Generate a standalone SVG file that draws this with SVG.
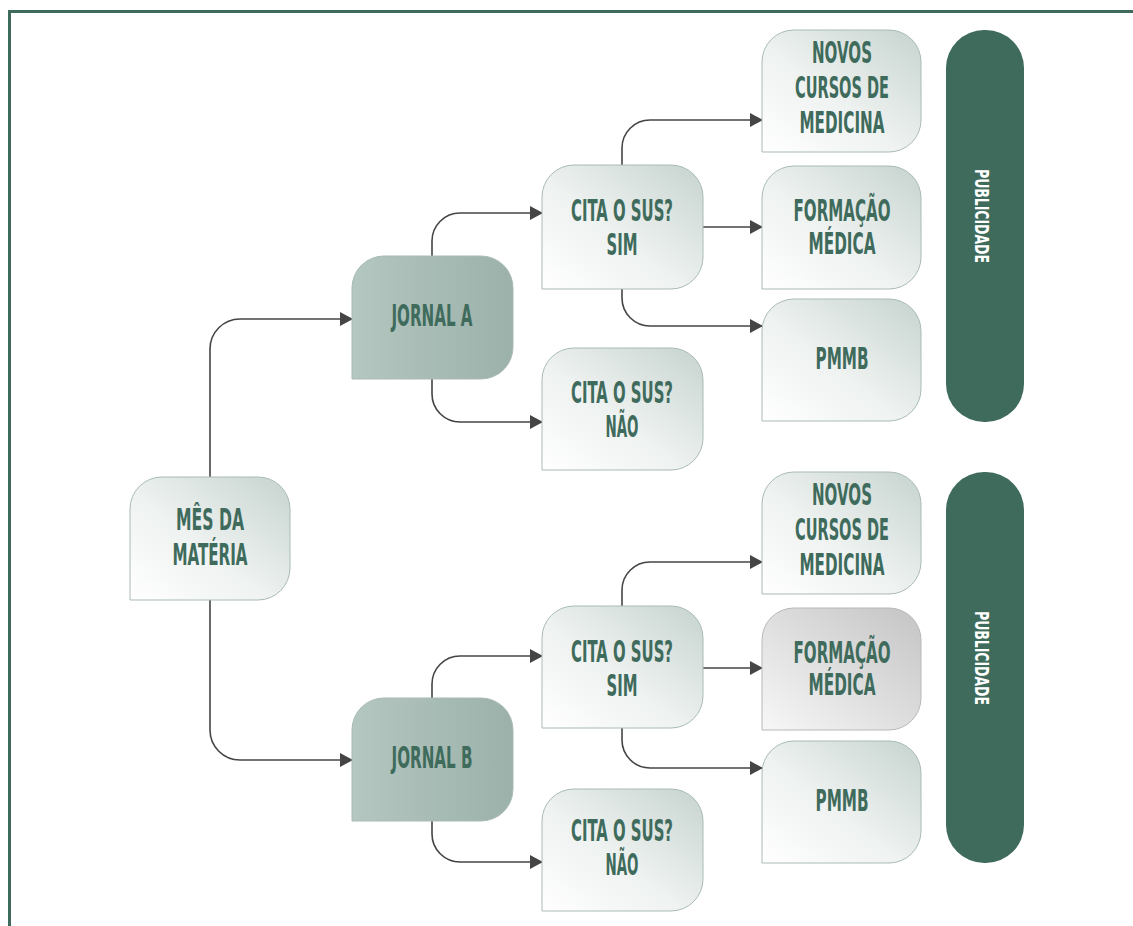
<svg xmlns="http://www.w3.org/2000/svg" width="1133" height="926" viewBox="0 0 1133 926">
<defs>
<linearGradient id="gLight" x1="0" y1="1" x2="1" y2="0">
<stop offset="0" stop-color="#ffffff"/>
<stop offset="0.45" stop-color="#eef2f0"/>
<stop offset="1" stop-color="#c6d3ce"/>
</linearGradient>
<linearGradient id="gJornal" x1="0" y1="0" x2="1" y2="0">
<stop offset="0" stop-color="#b4c7c0"/>
<stop offset="1" stop-color="#9bb1a9"/>
</linearGradient>
<linearGradient id="gGray" x1="0" y1="1" x2="1" y2="0">
<stop offset="0" stop-color="#f7f7f7"/>
<stop offset="1" stop-color="#c4c4c4"/>
</linearGradient>
<marker id="arr" markerUnits="userSpaceOnUse" markerWidth="13" markerHeight="14" refX="12" refY="7" orient="auto">
<path d="M0,0 L13,7 L0,14 Z" fill="#454545"/>
</marker>
<style>
.node{stroke:#a9bbb4;stroke-width:1}
.light{fill:url(#gLight)}
.jornal{fill:url(#gJornal)}
.gray{fill:url(#gGray);stroke:#b8b8b8}
.t{font-family:"Liberation Sans Narrow","DejaVu Sans Condensed","Liberation Sans",sans-serif;font-weight:bold;font-size:29.5px;fill:#3f6b5c;text-anchor:middle}
.pub{fill:#3f6b5c}
.pt{font-family:"Liberation Sans Narrow","DejaVu Sans Condensed","Liberation Sans",sans-serif;font-weight:bold;font-size:19px;fill:#ffffff;text-anchor:middle}
.conn path{fill:none;stroke:#454545;stroke-width:1.6;marker-end:url(#arr)}
</style>
</defs>
<rect width="1133" height="926" fill="#ffffff"/>
<rect x="9.5" y="11.5" width="1130" height="930" fill="none" stroke="#3f6b5c" stroke-width="3"/>

<g class="conn" id="connectors">
<path d="M210 477 V349 A30 30 0 0 1 240 319 H352"/>
<path d="M210 600 V730 A30 30 0 0 0 240 760 H352"/>
<path d="M432 256 V241 A28 28 0 0 1 460 213 H542"/>
<path d="M432 379 V394 A28 28 0 0 0 460 422 H542"/>
<path d="M622 165 V148 A28 28 0 0 1 650 120 H762"/>
<path d="M703 227 H762"/>
<path d="M622 289 V298 A28 28 0 0 0 650 326 H762"/>
<path d="M432 698 V684 A28 28 0 0 1 460 656 H542"/>
<path d="M432 821 V834 A28 28 0 0 0 460 862 H542"/>
<path d="M622 606 V590 A28 28 0 0 1 650 562 H762"/>
<path d="M703 668 H762"/>
<path d="M622 728 V740 A28 28 0 0 0 650 768 H762"/>
</g>

<g id="mes">
<path class="node light" d="M130 600 V509 A32 32 0 0 1 162 477 H258 A32 32 0 0 1 290 509 V568 A32 32 0 0 1 258 600 Z"/>
<text class="t" x="210" y="530" textLength="68" lengthAdjust="spacingAndGlyphs">MÊS DA</text>
<text class="t" x="210" y="565" textLength="75" lengthAdjust="spacingAndGlyphs">MATÉRIA</text>
</g>

<g id="jornalA">
<path class="node jornal" d="M352 379 V288 A32 32 0 0 1 384 256 H481 A32 32 0 0 1 513 288 V347 A32 32 0 0 1 481 379 Z"/>
<text class="t" x="432" y="326" textLength="81" lengthAdjust="spacingAndGlyphs">JORNAL A</text>
</g>

<g id="jornalB">
<path class="node jornal" d="M352 821 V730 A32 32 0 0 1 384 698 H481 A32 32 0 0 1 513 730 V789 A32 32 0 0 1 481 821 Z"/>
<text class="t" x="432" y="768" textLength="81" lengthAdjust="spacingAndGlyphs">JORNAL B</text>
</g>

<g id="citaSimA">
<path class="node light" d="M542 289 V197 A32 32 0 0 1 574 165 H671 A32 32 0 0 1 703 197 V257 A32 32 0 0 1 671 289 Z"/>
<text class="t" x="622" y="221" textLength="102" lengthAdjust="spacingAndGlyphs">CITA O SUS?</text>
<text class="t" x="622" y="255" textLength="31" lengthAdjust="spacingAndGlyphs">SIM</text>
</g>

<g id="citaNaoA">
<path class="node light" d="M542 470 V380 A32 32 0 0 1 574 348 H671 A32 32 0 0 1 703 380 V438 A32 32 0 0 1 671 470 Z"/>
<text class="t" x="622" y="403" textLength="102" lengthAdjust="spacingAndGlyphs">CITA O SUS?</text>
<text class="t" x="622" y="437" textLength="33" lengthAdjust="spacingAndGlyphs">NÃO</text>
</g>

<g id="citaSimB">
<path class="node light" d="M542 728 V638 A32 32 0 0 1 574 606 H671 A32 32 0 0 1 703 638 V696 A32 32 0 0 1 671 728 Z"/>
<text class="t" x="622" y="662" textLength="102" lengthAdjust="spacingAndGlyphs">CITA O SUS?</text>
<text class="t" x="622" y="696" textLength="31" lengthAdjust="spacingAndGlyphs">SIM</text>
</g>

<g id="citaNaoB">
<path class="node light" d="M542 911 V821 A32 32 0 0 1 574 789 H671 A32 32 0 0 1 703 821 V879 A32 32 0 0 1 671 911 Z"/>
<text class="t" x="622" y="841" textLength="102" lengthAdjust="spacingAndGlyphs">CITA O SUS?</text>
<text class="t" x="622" y="875" textLength="33" lengthAdjust="spacingAndGlyphs">NÃO</text>
</g>

<g id="novosA">
<path class="node light" d="M762 152 V62 A32 32 0 0 1 794 30 H889 A32 32 0 0 1 921 62 V120 A32 32 0 0 1 889 152 Z"/>
<text class="t" x="842" y="63" textLength="60" lengthAdjust="spacingAndGlyphs">NOVOS</text>
<text class="t" x="842" y="98" textLength="94" lengthAdjust="spacingAndGlyphs">CURSOS DE</text>
<text class="t" x="842" y="133" textLength="85" lengthAdjust="spacingAndGlyphs">MEDICINA</text>
</g>

<g id="formacaoA">
<path class="node light" d="M762 289 V198 A32 32 0 0 1 794 166 H889 A32 32 0 0 1 921 198 V257 A32 32 0 0 1 889 289 Z"/>
<text class="t" x="842" y="221" textLength="97" lengthAdjust="spacingAndGlyphs">FORMAÇÃO</text>
<text class="t" x="842" y="254" textLength="67" lengthAdjust="spacingAndGlyphs">MÉDICA</text>
</g>

<g id="pmmbA">
<path class="node light" d="M762 421 V331 A32 32 0 0 1 794 299 H889 A32 32 0 0 1 921 331 V389 A32 32 0 0 1 889 421 Z"/>
<text class="t" x="842" y="369" textLength="53" lengthAdjust="spacingAndGlyphs">PMMB</text>
</g>

<g id="novosB">
<path class="node light" d="M762 594 V504 A32 32 0 0 1 794 472 H889 A32 32 0 0 1 921 504 V562 A32 32 0 0 1 889 594 Z"/>
<text class="t" x="842" y="505" textLength="60" lengthAdjust="spacingAndGlyphs">NOVOS</text>
<text class="t" x="842" y="540" textLength="94" lengthAdjust="spacingAndGlyphs">CURSOS DE</text>
<text class="t" x="842" y="575" textLength="85" lengthAdjust="spacingAndGlyphs">MEDICINA</text>
</g>

<g id="formacaoB">
<path class="node gray" d="M762 730 V640 A32 32 0 0 1 794 608 H889 A32 32 0 0 1 921 640 V698 A32 32 0 0 1 889 730 Z"/>
<text class="t" x="842" y="663" textLength="97" lengthAdjust="spacingAndGlyphs">FORMAÇÃO</text>
<text class="t" x="842" y="695" textLength="67" lengthAdjust="spacingAndGlyphs">MÉDICA</text>
</g>

<g id="pmmbB">
<path class="node light" d="M762 863 V773 A32 32 0 0 1 794 741 H889 A32 32 0 0 1 921 773 V831 A32 32 0 0 1 889 863 Z"/>
<text class="t" x="842" y="811" textLength="53" lengthAdjust="spacingAndGlyphs">PMMB</text>
</g>

<g id="publicidadeA">
<rect class="pub" x="946" y="30" width="78" height="392" rx="38" ry="38"/>
<text class="pt" transform="translate(975 216) rotate(90)" textLength="94" lengthAdjust="spacingAndGlyphs">PUBLICIDADE</text>
</g>

<g id="publicidadeB">
<rect class="pub" x="946" y="472" width="78" height="391" rx="38" ry="38"/>
<text class="pt" transform="translate(975 658) rotate(90)" textLength="94" lengthAdjust="spacingAndGlyphs">PUBLICIDADE</text>
</g>
</svg>
